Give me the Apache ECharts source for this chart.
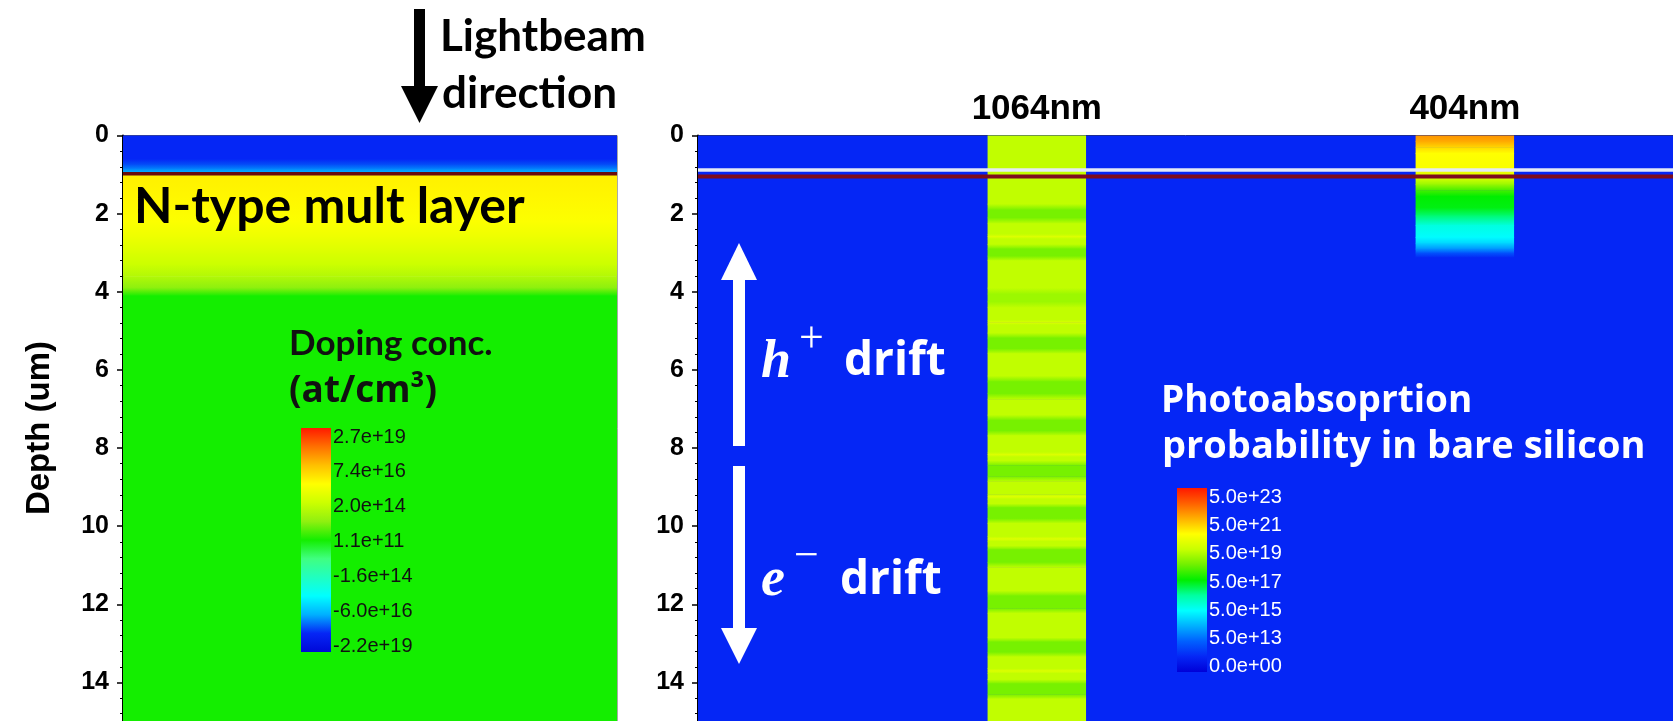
<!DOCTYPE html>
<html><head><meta charset="utf-8">
<script src="https://cdn.jsdelivr.net/npm/echarts@6/dist/echarts.min.js"></script>
<style>html,body{margin:0;padding:0;background:#fff;overflow:hidden}#c{width:1673px;height:721px}</style>
</head><body><div id="c"></div>
<script>
// ================= DATA =================
const depthMin = 0, depthMax = 15, depthInterval = 2;

// Left panel: doping concentration profile (depth in um -> position on colour bar, 0 = bottom, 1 = top)
const dopingDepth = [0, 0.6, 0.75, 0.85, 0.95, 0.95, 1.6, 2.2, 2.6, 3.0, 3.3, 3.6, 3.9, 4.1, 15];
const dopingLevel = [0.083, 0.083, 0.11, 0.14, 0.18, 0.77, 0.76, 0.745, 0.72, 0.69, 0.665, 0.63, 0.58, 0.5, 0.5];
const dopingTicks = ['2.7e+19', '7.4e+16', '2.0e+14', '1.1e+11', '-1.6e+14', '-6.0e+16', '-2.2e+19'];
const dopingColors = ['#0008d8','#0526f5','#00b0ff','#00ffff','#20ffc0','#40ff80','#14ee00','#90f010','#ccff00','#ffff00','#ffc000','#ff7000','#ff1a00'];
const dopingInterface = [0.98];

// Right panel: photo-absorption probability (colour-bar level)
const photoTicks = ['5.0e+23', '5.0e+21', '5.0e+19', '5.0e+17', '5.0e+15', '5.0e+13', '0.0e+00'];
const photoColors = ['#0000d8','#0526f5','#0060ff','#00b0ff','#00ffff','#00ffa0','#00ee00','#70f000','#c8ff00','#ffff00','#ffb000','#ff6000','#ff1800'];
const photoBackground = 0.083;
const beamNames = ['1064nm', '404nm'];
const beamX0 = [0.297, 0.736];
const beamX1 = [0.398, 0.837];
const beam1064Depth = [0,0.85,1.75,1.9,2.1,2.25,2.52,2.58,2.64,2.78,2.9,3.08,3.2,3.9,4.05,4.25,4.4,4.72,4.78,4.84,5.05,5.18,5.45,5.58,6.15,6.3,6.6,6.75,7.15,7.28,7.55,7.68,8.1,8.16,8.22,8.32,8.44,8.72,8.85,9.18,9.24,9.3,9.42,9.52,9.8,9.92,10.26,10.32,10.38,10.5,10.6,10.92,11.05,11.65,11.78,12.1,12.22,12.85,12.96,13.22,13.34,13.64,13.7,13.76,13.92,14.03,14.3,14.42,15];
const beam1064Level = [0.66,0.66,0.66,0.59,0.59,0.66,0.66,0.70,0.66,0.66,0.59,0.59,0.66,0.66,0.625,0.625,0.66,0.66,0.70,0.66,0.66,0.59,0.59,0.66,0.66,0.59,0.59,0.66,0.66,0.59,0.59,0.66,0.66,0.70,0.66,0.66,0.59,0.59,0.66,0.66,0.70,0.66,0.66,0.59,0.59,0.66,0.66,0.70,0.66,0.66,0.59,0.59,0.66,0.66,0.59,0.59,0.66,0.66,0.59,0.59,0.66,0.66,0.70,0.66,0.66,0.59,0.59,0.66,0.66];
const beam404Depth = [0, 0.15, 0.3, 0.45, 0.85, 1.1, 1.25, 1.4, 1.55, 1.85, 2.05, 2.3, 2.6, 2.75, 2.9, 3.0, 3.12, 15];
const beam404Level = [0.86, 0.84, 0.79, 0.75, 0.74, 0.68, 0.62, 0.55, 0.5, 0.49, 0.44, 0.36, 0.33, 0.29, 0.22, 0.15, 0.083, 0.083];
const whiteLineDepth = [0.88];
const redLineDepth = [1.05];

// ================= HELPERS =================
function hexRgb(h){ h=h.replace('#',''); return [parseInt(h.slice(0,2),16),parseInt(h.slice(2,4),16),parseInt(h.slice(4,6),16)]; }
function mapColor(stops, t){
  t = Math.max(0, Math.min(1, t));
  const n = stops.length - 1, f = t * n, i = Math.min(Math.floor(f), n - 1), u = f - i;
  const a = hexRgb(stops[i]), b = hexRgb(stops[i+1]);
  return 'rgb(' + a.map((v,k)=>Math.round(v + (b[k]-v)*u)).join(',') + ')';
}
function profileItems(x0, x1, depths, levels){
  const out = [];
  for (let i = 0; i < depths.length - 1; i++) if (depths[i+1] > depths[i]) out.push([x0, x1, depths[i], depths[i+1], levels[i], levels[i+1]]);
  return out;
}
function makeRender(stops){
  return function(params, api){
    const p0 = api.coord([api.value(0), api.value(2)]);
    const p1 = api.coord([api.value(1), api.value(3)]);
    return { type:'rect', shape:{ x:p0[0], y:p0[1], width:p1[0]-p0[0], height:p1[1]-p0[1]+0.6 },
      style:{ fill: new echarts.graphic.LinearGradient(0,0,0,1,[{offset:0,color:mapColor(stops,api.value(4))},{offset:1,color:mapColor(stops,api.value(5))}]) } };
  };
}

const leftData = profileItems(0, 1, dopingDepth, dopingLevel);
const rightData = [[0, 1, depthMin, depthMax, photoBackground, photoBackground]]
  .concat(profileItems(beamX0[0], beamX1[0], beam1064Depth, beam1064Level))
  .concat(profileItems(beamX0[1], beamX1[1], beam404Depth, beam404Level));

const tickFont = { fontFamily:'Liberation Sans, Arial, sans-serif', fontWeight:'bold', fontSize:25, color:'#000' };
function yAx(gi){
  return { type:'value', gridIndex:gi, inverse:true, min:depthMin, max:depthMax, interval:depthInterval,
    axisLine:{ show:true, lineStyle:{ color:'#000', width:2 } },
    axisTick:{ show:true, length:6, lineStyle:{ color:'#000', width:1.5 } },
    minorTick:{ show:true, splitNumber:5, length:3, lineStyle:{ color:'#000', width:1 } },
    axisLabel:Object.assign({ margin:14, showMaxLabel:false }, tickFont),
    splitLine:{ show:false } };
}

// ================= CHART =================
const chart = echarts.init(document.getElementById('c'), null, { renderer:'canvas' });

const graphics = [];
function colorBar(x, y, w, h, stops, ticks, labelTop, labelStep, labelX, color){
  graphics.push({ type:'rect', z:100, shape:{ x:x, y:y, width:w, height:h },
    style:{ fill: new echarts.graphic.LinearGradient(0,0,0,1, stops.slice().reverse().map((c,i,a)=>({offset:i/(a.length-1), color:c}))) } });
  ticks.forEach((t,i)=>graphics.push({ type:'text', z:100, style:{ text:t, x:labelX, y:labelTop + i*labelStep, fill:color,
    font:'20px "Liberation Sans", Arial, sans-serif', align:'left', verticalAlign:'middle' } }));
}
colorBar(301, 428, 30, 224, dopingColors, dopingTicks, 437, 34.9, 333, '#111');
colorBar(1177, 488, 30, 184, photoColors, photoTicks, 497.5, 28.2, 1209, '#fff');

function txt(text, x, y, font, fill){
  graphics.push({ type:'text', z:100, style:{ text:text, x:x, y:y, font:font, fill:fill, align:'left', verticalAlign:'middle' } });
}
// Light-beam arrow
graphics.push({ type:'rect', z:100, shape:{ x:414, y:9, width:11, height:79 }, style:{ fill:'#000' } });
graphics.push({ type:'polygon', z:100, shape:{ points:[[401,86],[438,86],[419.5,123]] }, style:{ fill:'#000' } });
txt('Lightbeam', 440, 37, 'bold 44px Lato, sans-serif', '#000');
txt('direction', 442, 94, 'bold 44px Lato, sans-serif', '#000');
txt('N-type mult layer', 134, 207, 'bold 50px Lato, sans-serif', '#000');
txt('Doping conc.', 289, 344, 'bold 35px Lato, sans-serif', '#111');
txt('(at/cm\u00b3)', 289, 391, 'bold 37px "Open Sans", sans-serif', '#111');
txt('Photoabsoprtion', 1161, 401, 'bold 37px "Open Sans", sans-serif', '#fff');
txt('probability in bare silicon', 1162, 447, 'bold 38px "Open Sans", sans-serif', '#fff');
// drift arrows
graphics.push({ type:'rect', z:100, shape:{ x:733, y:278, width:12, height:168 }, style:{ fill:'#fff' } });
graphics.push({ type:'polygon', z:100, shape:{ points:[[721,280],[757,280],[739,243]] }, style:{ fill:'#fff' } });
graphics.push({ type:'rect', z:100, shape:{ x:733, y:466, width:12, height:164 }, style:{ fill:'#fff' } });
graphics.push({ type:'polygon', z:100, shape:{ points:[[721,628],[757,628],[739,664]] }, style:{ fill:'#fff' } });
txt('h', 761, 363, 'italic bold 54px "Liberation Serif", serif', '#fff');
txt('+', 799, 340, '44px "Liberation Serif", serif', '#fff');
txt('drift', 844, 362, 'bold 46px "Open Sans", sans-serif', '#fff');
txt('e', 761, 581, 'italic bold 54px "Liberation Serif", serif', '#fff');
txt('\u2212', 794, 557, '44px "Liberation Serif", serif', '#fff');
txt('drift', 840, 581, 'bold 46px "Open Sans", sans-serif', '#fff');
// axis name (rotated)
graphics.push({ type:'text', z:100, x:40, y:428, rotation:Math.PI/2,
  style:{ text:'Depth (um)', x:0, y:0, font:'bold 33px "Liberation Sans", Arial, sans-serif', fill:'#000', align:'center', verticalAlign:'middle' } });

function hLine(depths, xi, color, width){
  return { type:'line', xAxisIndex:xi, yAxisIndex:xi, silent:true, symbol:'none', animation:false,
    data:[[0, depths[0]], [1, depths[0]]], lineStyle:{ color:color, width:width }, z:5 };
}

chart.setOption({
  animation:false,
  backgroundColor:'#fff',
  grid:[
    { left:123, top:135.5, width:494, height:586, show:true, borderColor:'#555', borderWidth:1, outerBoundsMode:'none' },
    { left:698, top:135.5, width:975, height:586, show:true, borderColor:'#333', borderWidth:1, outerBoundsMode:'none' }
  ],
  xAxis:[
    { type:'value', gridIndex:0, min:0, max:1, show:false },
    { type:'value', gridIndex:1, min:0, max:1, show:false }
  ],
  yAxis:[ yAx(0), yAx(1) ],
  graphic: graphics,
  series:[
    { type:'custom', xAxisIndex:0, yAxisIndex:0, silent:true, renderItem:makeRender(dopingColors),
      encode:{ x:[0,1], y:[2,3] }, data:leftData, z:1 },
    { type:'custom', xAxisIndex:1, yAxisIndex:1, silent:true, renderItem:makeRender(photoColors),
      encode:{ x:[0,1], y:[2,3] }, data:rightData, z:1 },
    hLine(dopingInterface, 0, '#6a0c0c', 3.5),
    hLine(whiteLineDepth, 1, '#e4eaf6', 3.5),
    hLine(redLineDepth, 1, '#7d0c1e', 4),
    { type:'custom', xAxisIndex:1, yAxisIndex:1, silent:true, clip:false, z:6,
      encode:{ x:0, y:1 },
      data: beamNames.map((n,i)=>[(beamX0[i]+beamX1[i])/2, -0.68]),
      renderItem:function(params, api){
        const p = api.coord([api.value(0), api.value(1)]);
        return { type:'text', style:{ text:beamNames[params.dataIndex], x:p[0], y:p[1], align:'center', verticalAlign:'middle',
          font:'bold 35px "Liberation Sans", Arial, sans-serif', fill:'#000' } };
      } }
  ]
});
</script></body></html>
